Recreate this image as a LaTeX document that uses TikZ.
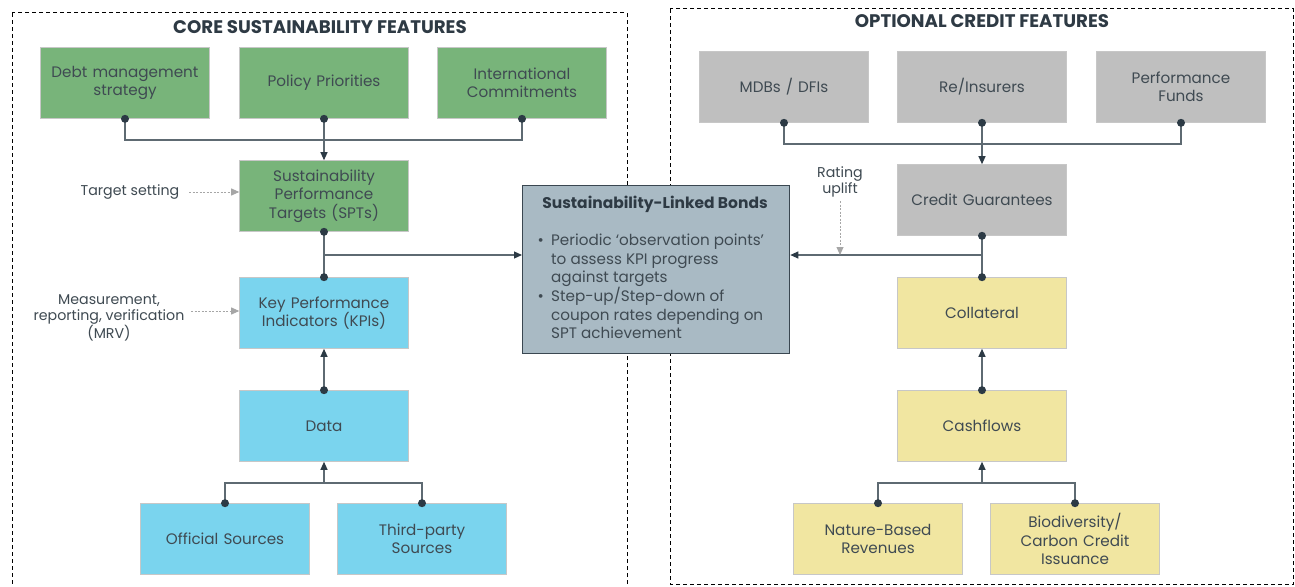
\documentclass[tikz,border=0pt]{standalone}
\usepackage{fontspec}
\setmainfont{Poppins}
\usetikzlibrary{arrows.meta,calc}
\definecolor{grn}{HTML}{78B47A}
\definecolor{blu}{HTML}{7AD4EE}
\definecolor{gry}{HTML}{BFBFBF}
\definecolor{yel}{HTML}{F1E6A1}
\definecolor{slbfill}{HTML}{A9BAC4}
\definecolor{slbdraw}{HTML}{3A4751}
\definecolor{txt}{HTML}{3F4A52}
\definecolor{ttl}{HTML}{2E3A44}
\definecolor{conncol}{HTML}{5E6A72}
\definecolor{dotcol}{HTML}{2C3A45}
\definecolor{helpcol}{HTML}{A6A6A6}
\tikzset{
  box/.style={draw=black!22, line width=0.6pt, minimum width=169pt, minimum height=71pt,
    text width=165pt, align=center, text=txt, inner sep=2pt,
    font=\fontsize{15.2}{18.3}\selectfont},
  gbox/.style={box, fill=grn},
  bbox/.style={box, fill=blu},
  ybox/.style={box, fill=yel},
  xbox/.style={box, fill=gry},
  conn/.style={draw=conncol, line width=1.1pt},
  arr/.style={conn, -{Triangle[length=8pt,width=7pt,color=dotcol]}},
  helper/.style={draw=helpcol, line width=0.9pt, dash pattern=on 2pt off 1.5pt, -{Triangle[length=8pt,width=7pt,color=helpcol]}},
  lbl/.style={text=txt, align=center, font=\fontsize{14.2}{16.5}\selectfont},
  frame/.style={draw=black, line width=1pt, dash pattern=on 4pt off 3pt},
  head/.style={text=ttl, font=\fontsize{18.2}{21}\selectfont\bfseries},
}
\newcommand{\dotat}[1]{\fill[dotcol] (#1) circle (4pt);}
\begin{document}
\begin{tikzpicture}[x=1pt,y=-1pt]
\useasboundingbox[fill=white] (0,0) rectangle (1295,586);
% frames
\draw[frame] (12,13) rectangle (627,600);
\draw[frame] (670,9) rectangle (1293.5,584);
\node[head] (h1) at (320,27) {CORE SUSTAINABILITY FEATURES};
\node[head] (h2) at (982,21) {OPTIONAL CREDIT FEATURES};
% left column
\node[gbox] (debt) at (125,83) {Debt management\\strategy};
\node[gbox] (pol) at (324,83) {Policy Priorities};
\node[gbox] (intl) at (522,83) {International\\Commitments};
\node[gbox] (spt) at (324,196) {Sustainability\\Performance\\Targets (SPTs)};
\node[bbox] (kpi) at (324,313) {Key Performance\\Indicators (KPIs)};
\node[bbox] (data) at (324,426) {Data};
\node[bbox] (off) at (225,539) {Official Sources};
\node[bbox] (third) at (422,539) {Third-party\\Sources};
% right column
\node[xbox] (mdb) at (784,87) {MDBs / DFIs};
\node[xbox] (re) at (982,87) {Re/Insurers};
\node[xbox] (pf) at (1181,87) {Performance\\Funds};
\node[xbox] (cg) at (982,200) {Credit Guarantees};
\node[ybox] (col) at (982,313) {Collateral};
\node[ybox] (cash) at (982,426) {Cashflows};
\node[ybox] (nat) at (878,539) {Nature-Based\\Revenues};
\node[ybox] (bio) at (1075,539) {Biodiversity/\\Carbon Credit\\Issuance};
% SLB
\node[draw=slbdraw, line width=1.3pt, fill=slbfill, minimum width=267pt, minimum height=168pt, anchor=north west] (slb) at (522,185) {};
\node[text=ttl, font=\fontsize{15.5}{18}\selectfont\bfseries] (slbt) at (655,204) {Sustainability-Linked Bonds};
\node[text=txt, anchor=north west, align=left, inner sep=0pt, font=\fontsize{15.2}{18.4}\selectfont] (slbb) at (530,234) {%
\makebox[21pt][c]{\textbullet}Periodic ‘observation points’\\
\hspace*{21pt}to assess KPI progress\\
\hspace*{21pt}against targets\\
\makebox[21pt][c]{\textbullet}Step-up/Step-down of\\
\hspace*{21pt}coupon rates depending on\\
\hspace*{21pt}SPT achievement};
% side labels
\node[lbl] (tset) at (130,192) {Target setting};
\node[lbl] (mrv) at (109,318) {Measurement,\\reporting, verification\\(MRV)};
\node[lbl] (rate) at (840,182) {Rating\\uplift};
\coordinate (tsetE) at (189,192);
\coordinate (mrvE) at (191,311);
\draw[helper] (tsetE) -- (tsetE -| spt.west);
\draw[helper] (mrvE) -- (mrvE -| kpi.west);
% left connectors
\coordinate (jt) at (324,140);
\draw[conn] (debt.south) |- (jt) -| (intl.south);
\draw[arr] (pol.south) -- (spt.north);
\dotat{debt.south}\dotat{pol.south}\dotat{intl.south}
\coordinate (jl) at (324,255);
\draw[conn] (spt.south) -- (kpi.north);
\draw[arr] (jl) -- (jl -| slb.west);
\dotat{spt.south}\dotat{kpi.north}
\draw[arr] (data.north) -- (kpi.south);
\dotat{data.north}
\coordinate (jb) at (324,483);
\draw[conn] (off.north) |- (jb) -| (third.north);
\draw[arr] (jb) -- (data.south);
\dotat{off.north}\dotat{third.north}
% right connectors
\coordinate (jrt) at (982,144);
\draw[conn] (mdb.south) |- (jrt) -| (pf.south);
\draw[arr] (re.south) -- (cg.north);
\dotat{mdb.south}\dotat{re.south}\dotat{pf.south}
\coordinate (jr) at (982,255);
\draw[conn] (cg.south) -- (col.north);
\draw[arr] (jr) -- (jr -| slb.east);
\dotat{cg.south}\dotat{col.north}
\coordinate (rateS) at (840,201);
\draw[helper] (rateS) -- (rateS |- jr);
\draw[arr] (cash.north) -- (col.south);
\dotat{cash.north}
\coordinate (jrb) at (982,483);
\draw[conn] (nat.north) |- (jrb) -| (bio.north);
\draw[arr] (jrb) -- (cash.south);
\dotat{nat.north}\dotat{bio.north}
\end{tikzpicture}
\end{document}
